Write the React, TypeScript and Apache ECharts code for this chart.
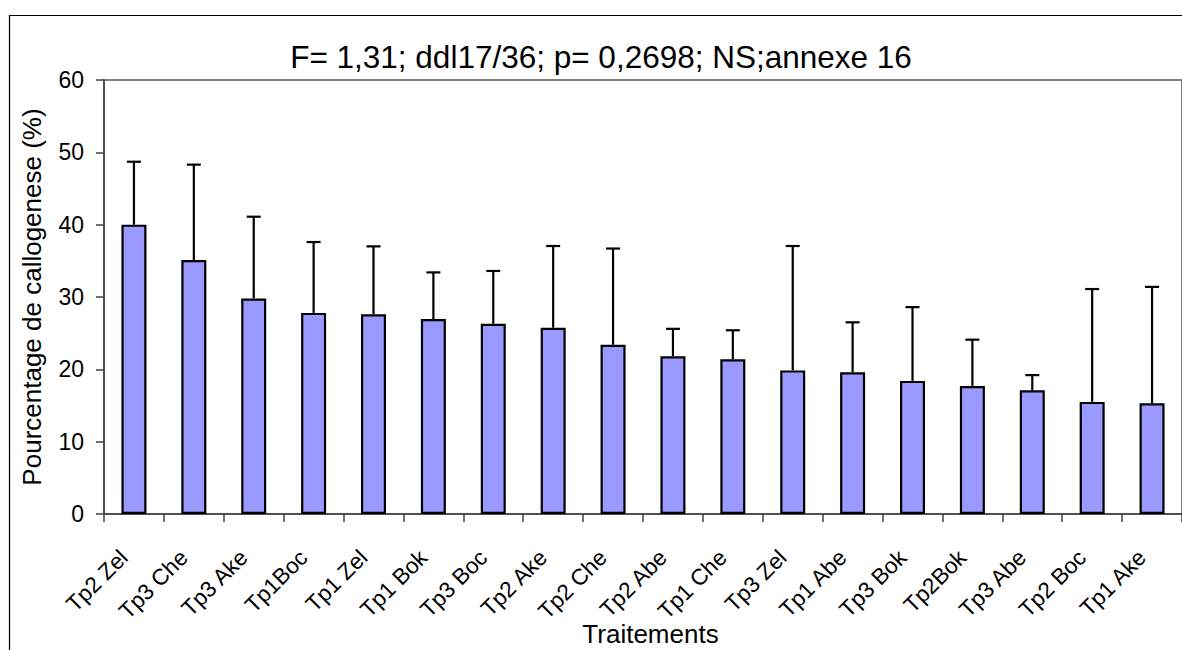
import React, { useEffect, useRef } from "react";
import * as echarts from "echarts";

const categories = [
  "Tp2 Zel", "Tp3 Che", "Tp3 Ake", "Tp1Boc", "Tp1 Zel", "Tp1 Bok",
  "Tp3 Boc", "Tp2 Ake", "Tp2 Che", "Tp2 Abe", "Tp1 Che", "Tp3 Zel",
  "Tp1 Abe", "Tp3 Bok", "Tp2Bok", "Tp3 Abe", "Tp2 Boc", "Tp1 Ake",
];
const means = [
  40.0, 35.1, 29.8, 27.8, 27.6, 26.95,
  26.3, 25.75, 23.4, 21.8, 21.4, 19.85,
  19.6, 18.4, 17.7, 17.1, 15.5, 15.3,
];
const upperLimits = [
  48.7, 48.3, 41.1, 37.6, 37.0, 33.4,
  33.6, 37.05, 36.7, 25.6, 25.4, 37.05,
  26.5, 28.6, 24.1, 19.2, 31.1, 31.4,
];
const yTicks = { min: 0, max: 60, interval: 10 };
const titleText = "F= 1,31; ddl17/36; p= 0,2698; NS;annexe 16";
const yName = "Pourcentage de callogenese (%)";
const xName = "Traitements";

const FONT = "'Liberation Sans', Arial, sans-serif";

export default function App() {
  const ref = useRef<HTMLDivElement>(null);
  useEffect(() => {
    if (!ref.current) return;
    const chart = echarts.init(ref.current, null, { renderer: "svg" });
    const errData = categories.map((_, i) => [i, means[i], upperLimits[i]]);
    chart.setOption({
      animation: false,
      backgroundColor: "#ffffff",
      title: {
        text: titleText,
        left: 596,
        top: 36,
        textAlign: "center",
        textStyle: { fontFamily: FONT, fontSize: 31.5, fontWeight: "normal", color: "#000" },
      },
      grid: {
        left: 104,
        top: 80,
        bottom: 136,
        right: -15,
        show: true,
        borderColor: "#808080",
        borderWidth: 2,
        backgroundColor: "transparent",
      },
      xAxis: {
        type: "category",
        data: categories,
        axisLine: { lineStyle: { color: "#404040", width: 1.5 } },
        axisTick: { show: true, length: 8, alignWithLabel: false, lineStyle: { color: "#404040", width: 1.5 } },
        axisLabel: {
          rotate: 45,
          interval: 0,
          margin: 30,
          formatter: (v: string) => `{t|${v}}{g|\u00a0}`,
          rich: {
            t: { fontFamily: FONT, fontSize: 22.5, color: "#000" },
            g: { width: 14, fontSize: 22.5 },
          },
          fontFamily: FONT,
          fontSize: 22.5,
          color: "#000",
        },
        splitLine: { show: false },
      },
      yAxis: {
        type: "value",
        min: yTicks.min,
        max: yTicks.max,
        interval: yTicks.interval,
        name: yName,
        nameLocation: "middle",
        nameGap: 59,
        nameTextStyle: { fontFamily: FONT, fontSize: 26, color: "#000" },
        axisLine: { show: true, lineStyle: { color: "#404040", width: 1.5 } },
        axisTick: { show: true, length: 8, lineStyle: { color: "#404040", width: 1.5 } },
        axisLabel: { fontFamily: FONT, fontSize: 23, color: "#000", margin: 20 },
        splitLine: { show: false },
      },
      graphic: [
        {
          type: "rect",
          shape: { x: 9.5, y: 15.5, width: 1300, height: 800 },
          style: { fill: "none", stroke: "#000", lineWidth: 1.2 },
          silent: true,
          z: 100,
        },
        {
          type: "text",
          x: 650.5,
          y: 634,
          style: {
            text: xName,
            fontFamily: FONT,
            fontSize: 26,
            fill: "#000",
            textAlign: "center",
            textVerticalAlign: "middle",
          },
        },
      ],
      series: [
        {
          type: "bar",
          data: means,
          barWidth: 25,
          itemStyle: { color: "#9999FF", borderColor: "#000", borderWidth: 2.2 },
          z: 2,
        },
        {
          type: "custom",
          data: errData,
          z: 3,
          renderItem: (params: any, api: any) => {
            const idx = api.value(0);
            const base = api.coord([idx, api.value(1)]);
            const top = api.coord([idx, api.value(2)]);
            const half = 7;
            return {
              type: "group",
              children: [
                {
                  type: "line",
                  shape: { x1: base[0], y1: base[1], x2: top[0], y2: top[1] },
                  style: { stroke: "#000", lineWidth: 2.2 },
                },
                {
                  type: "line",
                  shape: { x1: top[0] - half, y1: top[1], x2: top[0] + half, y2: top[1] },
                  style: { stroke: "#000", lineWidth: 2.2 },
                },
              ],
            };
          },
        },
      ],
    });
    return () => chart.dispose();
  }, []);
  return (
    <div style={{ position: "fixed", left: 0, top: 0, width: 1182, height: 650, overflow: "hidden", background: "#fff" }}>
      <div ref={ref} style={{ width: 1182, height: 650 }} />
    </div>
  );
}
